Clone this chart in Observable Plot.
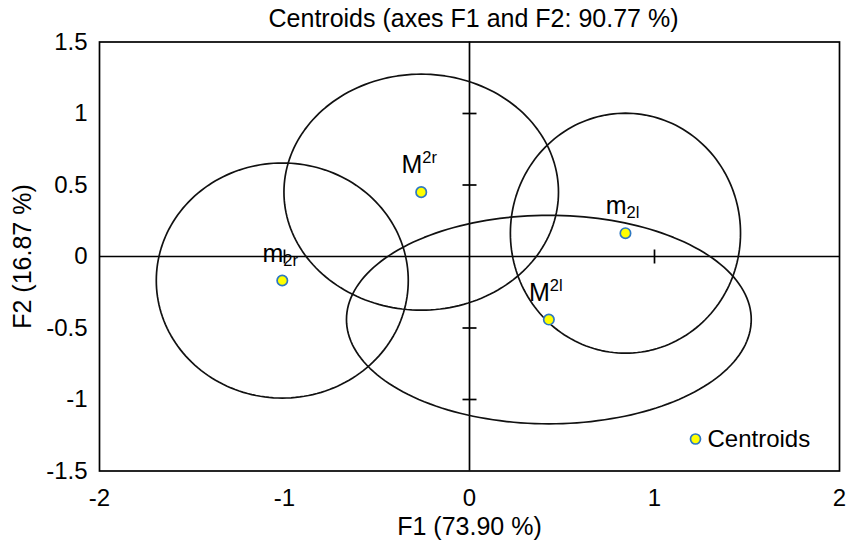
<!DOCTYPE html>
<html>
<head>
<meta charset="utf-8">
<script src="https://cdn.jsdelivr.net/npm/d3@7"></script>
<script src="https://cdn.jsdelivr.net/npm/@observablehq/plot@0.6"></script>
<style>
  body { margin: 0; background: #fff; }
  #chart svg { font-family: "Liberation Sans", Arial, sans-serif; }
</style>
</head>
<body>
<div id="chart"></div>
<script>
// Group centroids on the first two discriminant axes
const groups      = ["m2r", "M2r", "m2l", "M2l"];
const baseLetter  = ["m", "M", "m", "M"];
const scriptText  = ["2r", "2r", "2l", "2l"];
const scriptKind  = ["sub", "sup", "sub", "sup"];
const f1          = [-1.012, -0.261, 0.843, 0.429];
const f2          = [-0.168, 0.450, 0.163, -0.441];

// 95% confidence ellipses: semi-axes along F1 / F2 and rotation (degrees)
const ellipseRx    = [0.681, 0.742, 0.622, 1.094];
const ellipseRy    = [0.822, 0.825, 0.839, 0.729];
const ellipseAngle = [0, 0, 0, 0];

const xTicks = [-2, -1, 0, 1, 2];
const yTicks = [-1.5, -1, -0.5, 0, 0.5, 1, 1.5];
const innerXTicks = [-1, 1];
const innerYTicks = [-1, -0.5, 0.5, 1];

const chartTitle = "Centroids (axes F1 and F2: 90.77 %)";
const xTitle = "F1 (73.90 %)";
const yTitle = "F2 (16.87 %)";
const legendLabel = "Centroids";

const centroids = groups.map((g, i) => ({
  group: g, base: baseLetter[i], script: scriptText[i], kind: scriptKind[i],
  f1: f1[i], f2: f2[i]
}));

// Outline of each ellipse, traced around its centroid
const ellipsePts = [];
groups.forEach((g, i) => {
  const a = ellipseRx[i], b = ellipseRy[i], th = ellipseAngle[i] * Math.PI / 180;
  const n = 180;
  for (let k = 0; k < n; k++) {
    const t = 2 * Math.PI * k / n;
    const ex = a * Math.cos(t), ey = b * Math.sin(t);
    ellipsePts.push({
      group: g,
      f1: f1[i] + ex * Math.cos(th) - ey * Math.sin(th),
      f2: f2[i] + ex * Math.sin(th) + ey * Math.cos(th)
    });
  }
});

// Short line symbols for the ticks drawn on the zero axes
const vBar = { draw(ctx, size) { const r = Math.sqrt(size / Math.PI); ctx.moveTo(0, -r); ctx.lineTo(0, r); } };
const hBar = { draw(ctx, size) { const r = Math.sqrt(size / Math.PI); ctx.moveTo(-r, 0); ctx.lineTo(r, 0); } };

const FS = 24;
const TFS = 25;
const LW = 1.7;
const dotFill = "#ffff00", dotStroke = "#2e78c2";

const chart = Plot.plot({
  width: 856,
  height: 543,
  marginLeft: 99,
  marginRight: 17,
  marginTop: 41.5,
  marginBottom: 72.5,
  x: { domain: [-2, 2] },
  y: { domain: [-1.5, 1.5] },
  marks: [
    Plot.axisX({ ticks: xTicks, tickSize: 0, tickPadding: 18, fontSize: FS, label: null, tickFormat: d => String(d) }),
    Plot.axisY({ ticks: yTicks, tickSize: 0, tickPadding: 12, fontSize: FS, label: null, tickFormat: d => String(d) }),
    Plot.ruleX([0], { stroke: "#000", strokeWidth: LW }),
    Plot.ruleY([0], { stroke: "#000", strokeWidth: LW }),
    Plot.dot(innerXTicks, { x: d => d, y: 0, symbol: vBar, r: 7, stroke: "#000", strokeWidth: LW }),
    Plot.dot(innerYTicks, { x: 0, y: d => d, symbol: hBar, r: 7, stroke: "#000", strokeWidth: LW }),
    Plot.line(ellipsePts, { x: "f1", y: "f2", z: "group", curve: "linear-closed", stroke: "#111", strokeWidth: LW }),
    Plot.dot(centroids, { x: "f1", y: "f2", r: 5.2, fill: dotFill, stroke: dotStroke, strokeWidth: 1.7 }),
    Plot.text(centroids, { x: "f1", y: "f2", text: "base", textAnchor: "end", lineAnchor: "bottom", dx: 1, dy: -19, fontSize: 25, fill: "#000" }),
    Plot.text(centroids.filter(d => d.kind === "sup"), { x: "f1", y: "f2", text: "script", textAnchor: "start", lineAnchor: "bottom", dx: 1, dy: -29, fontSize: 16.5, fill: "#000" }),
    Plot.text(centroids.filter(d => d.kind === "sub"), { x: "f1", y: "f2", text: "script", textAnchor: "start", lineAnchor: "bottom", dx: 1, dy: -15, fontSize: 16.5, fill: "#000" }),
    Plot.frame({ stroke: "#000", strokeWidth: LW }),
    // legend
    Plot.dot([legendLabel], { frameAnchor: "bottom-right", dx: -144, dy: -32, r: 5, fill: dotFill, stroke: dotStroke, strokeWidth: 1.7 }),
    Plot.text([legendLabel], { frameAnchor: "bottom-right", dx: -132, dy: -32, textAnchor: "start", lineAnchor: "middle", fontSize: FS, fill: "#000" }),
    // titles
    Plot.text([chartTitle], { frameAnchor: "top", dx: 4, dy: -23, textAnchor: "middle", lineAnchor: "middle", fontSize: TFS, fill: "#000" }),
    Plot.text([xTitle], { frameAnchor: "bottom", dy: 56, textAnchor: "middle", lineAnchor: "middle", fontSize: TFS, fill: "#000" }),
    Plot.text([yTitle], { frameAnchor: "left", dx: -77, rotate: -90, textAnchor: "middle", lineAnchor: "middle", fontSize: TFS, fill: "#000" })
  ]
});

document.getElementById("chart").appendChild(chart);
</script>
</body>
</html>
